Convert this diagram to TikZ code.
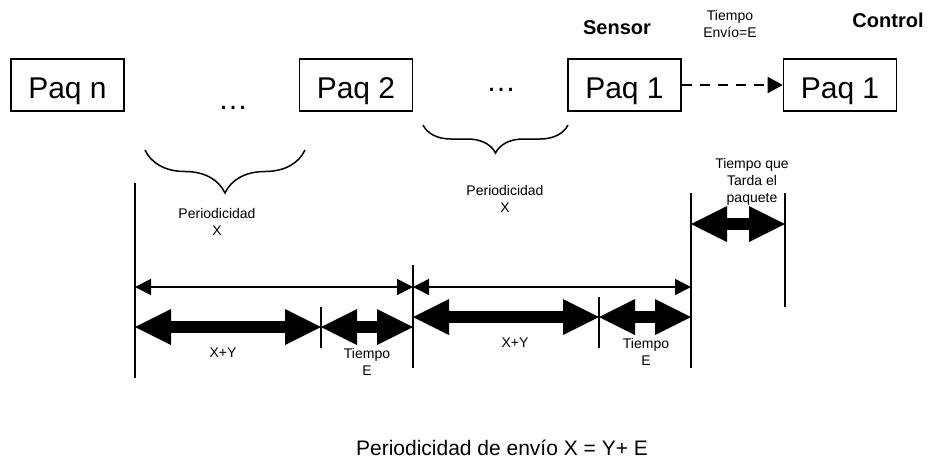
\documentclass[tikz,border=0pt]{standalone}
\usepackage{fontspec}
\setmainfont{Liberation Sans}
\usetikzlibrary{arrows.meta}
\usetikzlibrary{decorations.pathreplacing}

\begin{document}
\begin{tikzpicture}[
		x=1pt,y=-1pt,
		paq/.style={draw,line width=1.6pt,minimum width=113pt,minimum height=52pt,inner sep=0pt,
			text height=30pt,text depth=4pt,font=\fontsize{30}{34}\selectfont},
		lbl/.style={align=center,font=\fontsize{14}{17}\selectfont},
		hd/.style={font=\fontsize{20}{24}\selectfont\bfseries},
		tmark/.style={line width=1.8pt},
		tsub/.style={line width=1.3pt},
		perarr/.style={line width=1.5pt,{Triangle[length=16pt,width=16pt]}-{Triangle[length=16pt,width=16pt]}},
		bigarr/.style={line width=12pt,
			{Triangle[length=36pt,width=36pt,line width=0pt]}-{Triangle[length=36pt,width=36pt,line width=0pt]}},
		brc/.style={decorate,decoration={brace,mirror,amplitude=#1},line width=1.5pt},
		>={Triangle[length=15pt,width=16pt]}]
	\useasboundingbox (0,0) rectangle (929,464);
	%% headers
	\node[hd] (sensor) at (617,28) {Sensor};
	\node[hd] (control) at (888,20) {Control};
	\node[lbl] (envio) at (730,24) {Tiempo\\Envío=E};
	%% packets
	\node[paq] (paqn) at (67.5,85) {Paq n};
	\node[paq] (paq2) at (356,85) {Paq 2};
	\node[paq] (paq1) at (624.5,85) {Paq 1};
	\node[paq] (paq1c) at (840,85) {Paq 1};
	\node[anchor=base,font=\fontsize{30}{34}\selectfont] (dotsa) at (233,109) {…};
	\node[anchor=base,font=\fontsize{30}{34}\selectfont] (dotsb) at (501,91) {…};
	\draw[line width=1.8pt,dash pattern=on 10pt off 8pt,->] (paq1) -- (paq1c);
	%% braces
	\draw[brc=43pt] (145,150) -- (305,150);
	\draw[brc=28pt] (423,125) -- (568,125);
	\node[lbl] (perx1) at (217,221.5) {Periodicidad\\X};
	\node[lbl] (perx2) at (505,198.5) {Periodicidad\\X};
	\node[lbl] (tarda) at (752,182) {Tiempo que\\Tarda el\\paquete};
	%% time marks
	\draw[tmark] (135,183) -- (135,378);
	\draw[tmark] (413,265) -- (413,368);
	\draw[tmark] (691,193) -- (691,368);
	\draw[tmark] (785,193) -- (785,307);
	\draw[tsub] (321,307) -- (321,348);
	\draw[tsub] (599,297) -- (599,348);
	\coordinate (a0) at (135,287);
	\coordinate (a1) at (413,287);
	\coordinate (a2) at (691,287);
	\coordinate (b0) at (135,327);
	\coordinate (b1) at (321,327);
	\coordinate (b2) at (413,327);
	\coordinate (c0) at (413,317);
	\coordinate (c1) at (599,317);
	\coordinate (c2) at (691,317);
	\coordinate (d0) at (691,224);
	\coordinate (d1) at (785,224);
	%% periods
	\draw[perarr] (a0) -- (a1);
	\draw[perarr] (a1) -- (a2);
	\draw[bigarr] (b0) -- (b1);
	\draw[bigarr] (b1) -- (b2);
	\draw[bigarr] (c0) -- (c1);
	\draw[bigarr] (c1) -- (c2);
	\draw[bigarr] (d0) -- (d1);
	\node[lbl] (xy1) at (223,353) {X+Y};
	\node[lbl] (te1) at (367,361.5) {Tiempo\\E};
	\node[lbl] (xy2) at (515,343) {X+Y};
	\node[lbl] (te2) at (646,351.5) {Tiempo\\E};
	%% formula
	\node[font=\fontsize{21}{24}\selectfont] (formula) at (502,448) {Periodicidad de envío X = Y+ E};
\end{tikzpicture}
\end{document}
